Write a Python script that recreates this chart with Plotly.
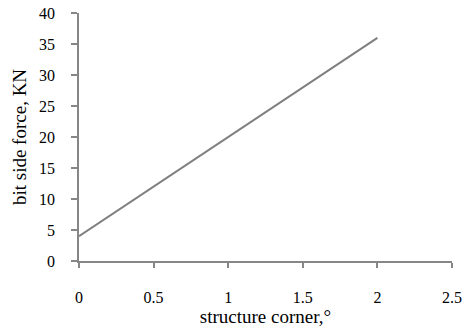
import plotly.graph_objects as go

# Data
structure_corner = [0, 0.5, 1, 1.5, 2]
side_force = [4, 12, 20, 28, 36]

font = "Liberation Serif, Times New Roman, serif"
axis_grey = "#868686"

fig = go.Figure(
    go.Scatter(
        x=structure_corner,
        y=side_force,
        mode="lines",
        line=dict(color="#7f7f7f", width=2),
        showlegend=False,
    )
)

fig.update_layout(
    width=466,
    height=328,
    margin=dict(l=79, r=14, t=13, b=67),
    paper_bgcolor="white",
    plot_bgcolor="white",
    font=dict(family=font, size=16, color="black"),
)

fig.update_xaxes(
    range=[0, 2.5],
    dtick=0.5,
    automargin=False,
    showgrid=False,
    zeroline=False,
    showline=True,
    linecolor=axis_grey,
    linewidth=1.5,
    ticks="outside",
    ticklen=5,
    tickcolor=axis_grey,
    tickwidth=1.5,
    ticklabelstandoff=16,
    title=dict(text="structure corner,°", standoff=4),
)
fig.update_yaxes(
    range=[0, 40],
    dtick=5,
    automargin=False,
    showgrid=False,
    zeroline=False,
    showline=True,
    linecolor=axis_grey,
    linewidth=1.5,
    ticks="outside",
    ticklen=6,
    tickcolor=axis_grey,
    tickwidth=1.5,
    ticklabelstandoff=13,
    title=dict(text="bit side force, KN", standoff=7),
)

# drop the default page margin so the figure sits at the window corner
fig.write_html(
    "out.html",
    config={"displayModeBar": False},
    post_script="document.body.style.margin='0';",
)
